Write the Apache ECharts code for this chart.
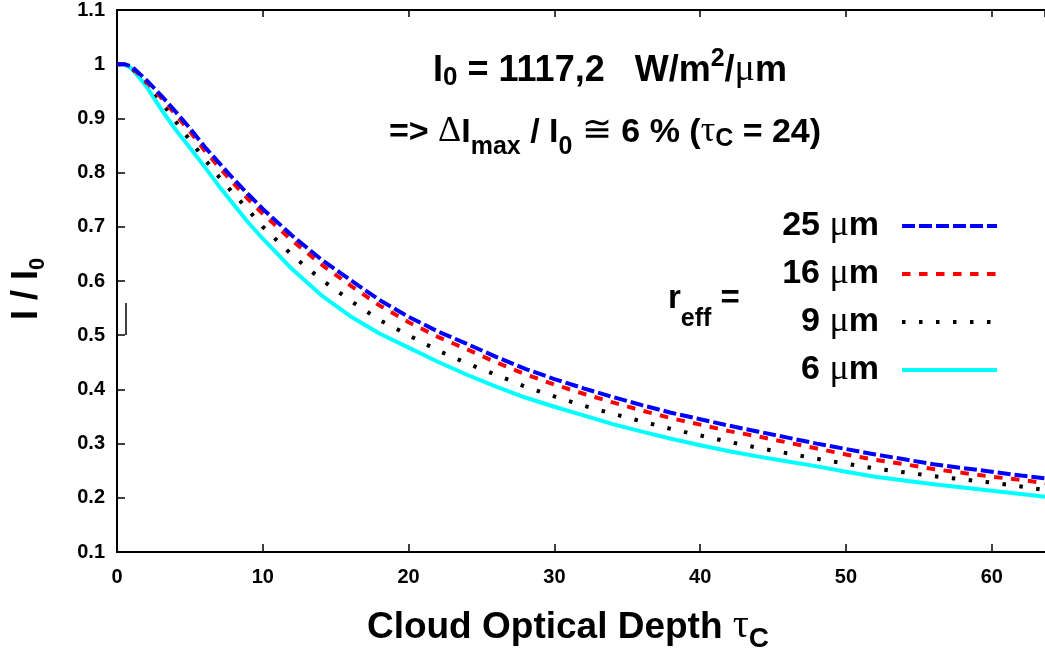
<!DOCTYPE html>
<html><head><meta charset="utf-8">
<script src="https://cdn.jsdelivr.net/npm/echarts@6/dist/echarts.min.js"></script>
<style>html,body{margin:0;padding:0;background:#fff}#c{width:1045px;height:651px}</style>
</head><body><div id="c"></div>
<script>
// ---- data ----
const tau = [0,0.5,1,2,3,4,5,6,7,8,9,10,12,14,16,18,20,22,24,26,28,30,32,34,36,38,40,42,44,46,48,50,52,54,56,58,60,62,64];
const r25 = [1.0,1.0,0.996,0.971,0.943,0.913,0.882,0.848,0.818,0.788,0.760,0.733,0.684,0.640,0.602,0.565,0.534,0.507,0.484,0.460,0.438,0.419,0.402,0.386,0.371,0.357,0.345,0.333,0.322,0.311,0.300,0.290,0.280,0.271,0.262,0.255,0.248,0.241,0.235];
const r16 = [1.0,1.0,0.995,0.968,0.939,0.908,0.876,0.841,0.810,0.780,0.751,0.724,0.675,0.631,0.592,0.555,0.524,0.497,0.474,0.450,0.428,0.409,0.392,0.376,0.361,0.347,0.335,0.323,0.313,0.302,0.291,0.280,0.270,0.262,0.253,0.246,0.239,0.233,0.226];
const r9  = [1.0,1.0,0.993,0.967,0.932,0.895,0.860,0.825,0.792,0.761,0.731,0.700,0.648,0.603,0.564,0.528,0.500,0.472,0.448,0.427,0.405,0.387,0.370,0.355,0.341,0.327,0.315,0.303,0.292,0.282,0.272,0.263,0.254,0.247,0.240,0.234,0.228,0.221,0.213];
const r6  = [1.0,1.0,0.992,0.960,0.918,0.880,0.846,0.811,0.775,0.741,0.708,0.678,0.622,0.574,0.535,0.503,0.477,0.451,0.427,0.405,0.385,0.368,0.352,0.336,0.322,0.309,0.297,0.286,0.276,0.267,0.258,0.248,0.239,0.232,0.225,0.219,0.213,0.207,0.201];
const seriesNames = ['25 μm','16 μm','9 μm','6 μm'];
const xRange = [0, 63.65];
const yRange = [0.1, 1.1];

// ---- style helpers ----
const F = "'Liberation Sans', Arial, sans-serif";
const G = "'Liberation Serif', 'DejaVu Serif', serif";
function tk(fs, base, fam, bold) {
  const pad = Math.max(0, base - 0.81 * fs);
  return {fontSize: fs, lineHeight: fs, fontFamily: fam, fontWeight: bold ? 'bold' : 'normal',
          color: '#000', verticalAlign: 'top', padding: [pad, 0, 0, 0]};
}
const pairs = a => tau.map((t, i) => [t, a[i]]);

const chart = echarts.init(document.getElementById('c'), null, {renderer: 'canvas'});
const axisCommon = {
  type: 'value', min: xRange[0], max: xRange[1], interval: 10,
  axisLine: {show: true, lineStyle: {color: '#000', width: 2}},
  axisTick: {show: true, inside: true, length: 8, lineStyle: {color: '#000', width: 1.5}},
  splitLine: {show: false}
};
const lineCommon = {type: 'line', symbol: 'none', smooth: false};
chart.setOption({
  animation: false,
  backgroundColor: '#fff',
  grid: {left: 117, right: 0, top: 10, bottom: 99, containLabel: false},
  xAxis: [
    Object.assign({}, axisCommon, {position: 'bottom',
      axisLabel: {show: true, margin: 15, fontSize: 20, fontWeight: 'bold', fontFamily: F, color: '#000', showMaxLabel: false}}),
    Object.assign({}, axisCommon, {position: 'top', axisLabel: {show: false},
      axisTick: {show: true, inside: true, length: 7, lineStyle: {color: '#000', width: 1.5}}})
  ],
  yAxis: {
    type: 'value', min: yRange[0], max: yRange[1], interval: 0.1,
    axisLine: {show: true, lineStyle: {color: '#000', width: 2}},
    axisTick: {show: true, inside: true, length: 8, lineStyle: {color: '#000', width: 1.5}},
    axisLabel: {margin: 12, fontSize: 20, fontWeight: 'bold', fontFamily: F, color: '#000',
      formatter: v => String(+v.toFixed(2))},
    splitLine: {show: false}
  },
  legend: {
    data: seriesNames, orient: 'vertical', right: 41, top: 203, align: 'right',
    itemWidth: 95, itemHeight: 20, itemGap: 12, selectedMode: false,
    itemStyle: {opacity: 0},
    lineStyle: {width: 4},
    formatter: n => '{b|' + n.split(' ')[0] + ' }{g|μ}{b|m}',
    textStyle: {padding: [0, 18, 0, 0], rich: {
      b: {fontSize: 34, fontWeight: 'bold', fontFamily: F, lineHeight: 40, color: '#000'},
      g: {fontSize: 36, fontFamily: G, lineHeight: 40, color: '#000'}}}
  },
  series: [
    Object.assign({}, lineCommon, {name: seriesNames[3], data: pairs(r6), z: 2,
     lineStyle: {color: '#00ffff', width: 4, join: 'round'}, itemStyle: {color: '#00ffff'}}),
    Object.assign({}, lineCommon, {name: seriesNames[2], data: pairs(r9), z: 3,
     lineStyle: {color: '#000000', width: 4, type: [3.5, 13.5], cap: 'butt'}, itemStyle: {color: '#000'}}),
    Object.assign({}, lineCommon, {name: seriesNames[1], data: pairs(r16), z: 4,
     lineStyle: {color: '#ff0000', width: 4, type: [8.5, 8.5], cap: 'butt'}, itemStyle: {color: '#ff0000'}}),
    Object.assign({}, lineCommon, {name: seriesNames[0], data: pairs(r25), z: 5,
     lineStyle: {color: '#0000ff', width: 4, type: [13, 4], cap: 'butt'}, itemStyle: {color: '#0000ff'}})
  ],
  graphic: [
    {type: 'text', x: 610, y: 44, z: 10, style: {
      text: '{m|I}{s|0}{m| = 1117,2   W/m}{sup|2}{m|/}{g|μ}{m|m}', align: 'center', verticalAlign: 'top',
      rich: {m: tk(36, 38, F, true), s: tk(26, 42, F, true), sup: tk(25, 23, F, true), g: tk(38, 38, G, false)}}},
    {type: 'text', x: 605, y: 106, z: 10, style: {
      text: '{m|=> }{g|Δ}{m|I}{s|max}{m| / I}{s|0}{m| }{g|≅}{m| 6 % (}{g|τ}{sc|C}{m| = 24)}', align: 'center', verticalAlign: 'top',
      rich: {m: tk(34, 37, F, true), s: tk(25, 49, F, true), sc: tk(25, 41, F, true), g: tk(36, 37, G, false)}}},
    {type: 'text', x: 668, y: 275, z: 10, style: {
      text: '{m|r}{s|eff}{m| =}', align: 'left', verticalAlign: 'top',
      rich: {m: tk(33, 34, F, true), s: tk(25, 52, F, true)}}},
    {type: 'text', x: 4, y: 289, rotation: Math.PI / 2, z: 10, style: {
      text: '{m|I / I}{s|0}', align: 'center', verticalAlign: 'top',
      rich: {m: tk(36, 34, F, true), s: tk(22, 41, F, true)}}},
    {type: 'text', x: 568, y: 598, z: 10, style: {
      text: '{m|Cloud Optical Depth }{g|τ}{sc|C}', align: 'center', verticalAlign: 'top',
      rich: {m: tk(37, 41, F, true), g: tk(40, 41, G, false), sc: tk(28, 50, F, true)}}},
    {type: 'line', z: 10, shape: {x1: 126, y1: 303, x2: 126, y2: 335}, style: {stroke: '#000', lineWidth: 1.5}}
  ]
});
</script></body></html>
